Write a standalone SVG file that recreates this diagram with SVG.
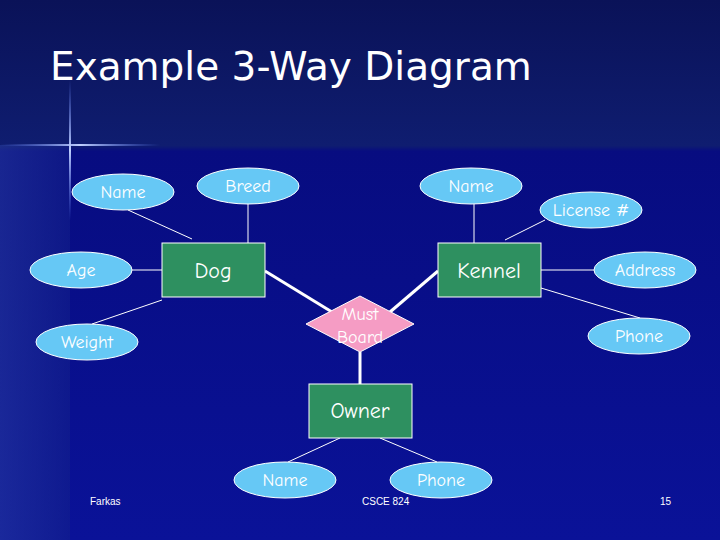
<svg xmlns="http://www.w3.org/2000/svg" width="720" height="540" viewBox="0 0 720 540">
<defs>
<linearGradient id="bg" x1="0" y1="0" x2="0" y2="1"><stop offset="0" stop-color="#0a1258"/><stop offset="0.27" stop-color="#0f1d70"/><stop offset="0.28" stop-color="#070c80"/><stop offset="1" stop-color="#0a1298"/></linearGradient>
<linearGradient id="strip" x1="0" y1="0" x2="1" y2="0"><stop offset="0" stop-color="#2a3fa0"/><stop offset="1" stop-color="#14228a"/></linearGradient>
<linearGradient id="hl" x1="0" y1="0" x2="1" y2="0"><stop offset="0" stop-color="#6080ff" stop-opacity="0"/><stop offset="0.5" stop-color="#c0d0ff"/><stop offset="1" stop-color="#6080ff" stop-opacity="0"/></linearGradient>
<linearGradient id="vl" x1="0" y1="0" x2="0" y2="1"><stop offset="0" stop-color="#6080ff" stop-opacity="0"/><stop offset="0.5" stop-color="#c0d0ff"/><stop offset="1" stop-color="#6080ff" stop-opacity="0"/></linearGradient>
</defs>
<style>
.attr{fill:#66c8f5;stroke:#ffffff;stroke-width:1}
.ent{fill:#2e9060;stroke:#ffffff;stroke-width:1}
.t{font-family:"Comic Neue","DejaVu Sans",sans-serif;fill:#ffffff;text-anchor:middle}
.a{font-size:18px}
.e{font-size:22px}
.c line{stroke:#ffffff;stroke-width:1}
.c .th{stroke-width:3}
.f{font-family:"Liberation Sans",sans-serif;fill:#ffffff;font-size:10px}
</style>
<rect width="720" height="540" fill="url(#bg)"/>
<rect x="0" y="145" width="70" height="395" fill="url(#strip)" opacity="0.5"/>
<rect x="0" y="144" width="160" height="2" fill="url(#hl)"/>
<rect x="69" y="80" width="2" height="140" fill="url(#vl)"/>
<text x="50" y="80" font-family="'DejaVu Sans',sans-serif" font-size="39" fill="#ffffff">Example 3-Way Diagram</text>
<g class="c">
<line x1="128" y1="210" x2="192" y2="239"/>
<line x1="248" y1="204" x2="248" y2="243"/>
<line x1="132" y1="270" x2="162" y2="270"/>
<line x1="92" y1="324" x2="162" y2="300"/>
<line class="th" x1="265" y1="271" x2="332" y2="312"/>
<line class="th" x1="438" y1="271" x2="390" y2="312"/>
<line class="th" x1="360" y1="352" x2="360" y2="384"/>
<line x1="474" y1="204" x2="474" y2="243"/>
<line x1="545" y1="220" x2="505" y2="240"/>
<line x1="541" y1="270" x2="594" y2="270"/>
<line x1="541" y1="288" x2="640" y2="318"/>
<line x1="340" y1="438" x2="288" y2="462"/>
<line x1="380" y1="438" x2="437" y2="462"/>
</g>
<g id="n-dogname"><ellipse class="attr" cx="123" cy="192" rx="51" ry="18"/><text class="t a" x="123" y="198">Name</text></g>
<g id="n-breed"><ellipse class="attr" cx="248" cy="186" rx="51" ry="18"/><text class="t a" x="248" y="192">Breed</text></g>
<g id="n-age"><ellipse class="attr" cx="81" cy="270" rx="51" ry="18"/><text class="t a" x="81" y="276">Age</text></g>
<g id="n-weight"><ellipse class="attr" cx="87" cy="342" rx="51" ry="18"/><text class="t a" x="87" y="348">Weight</text></g>
<g id="n-dog"><rect class="ent" x="162" y="243" width="103" height="54"/><text class="t e" x="213" y="278">Dog</text></g>
<g id="n-kname"><ellipse class="attr" cx="471" cy="186" rx="51" ry="18"/><text class="t a" x="471" y="192">Name</text></g>
<g id="n-license"><ellipse class="attr" cx="591" cy="210" rx="51" ry="18"/><text class="t a" x="591" y="216">License #</text></g>
<g id="n-address"><ellipse class="attr" cx="645" cy="270" rx="51" ry="18"/><text class="t a" x="645" y="276">Address</text></g>
<g id="n-kphone"><ellipse class="attr" cx="639" cy="336" rx="51" ry="18"/><text class="t a" x="639" y="342">Phone</text></g>
<g id="n-kennel"><rect class="ent" x="438" y="243" width="103" height="54"/><text class="t e" x="489" y="278">Kennel</text></g>
<g id="n-must"><polygon points="360,296 414,324 360,352 306,324" fill="#f59cc4" stroke="#ffffff" stroke-width="1"/><text class="t a" x="360" y="320">Must</text><text class="t a" x="360" y="343">Board</text></g>
<g id="n-owner"><rect class="ent" x="309" y="384" width="103" height="54"/><text class="t e" x="360" y="418">Owner</text></g>
<g id="n-oname"><ellipse class="attr" cx="285" cy="480" rx="51" ry="18"/><text class="t a" x="285" y="486">Name</text></g>
<g id="n-ophone"><ellipse class="attr" cx="441" cy="480" rx="51" ry="18"/><text class="t a" x="441" y="486">Phone</text></g>
<text class="f" x="90" y="505">Farkas</text>
<text class="f" x="362" y="505">CSCE 824</text>
<text class="f" x="660" y="505">15</text>
</svg>
